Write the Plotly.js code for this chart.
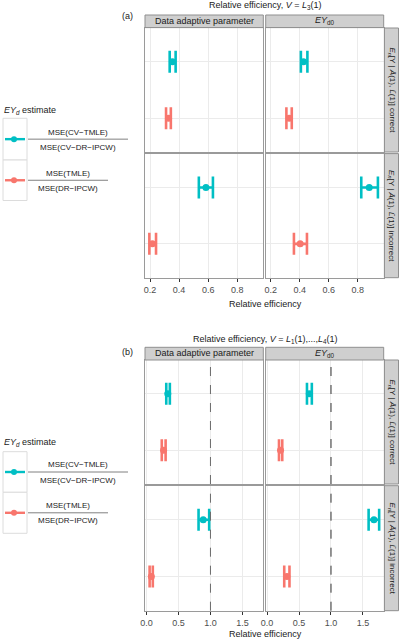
<!DOCTYPE html>
<html>
<head>
<meta charset="utf-8">
<script src="https://cdn.plot.ly/plotly-3.0.1.min.js"></script>
<style>
  html, body { margin: 0; padding: 0; background: #ffffff; }
  #chart { width: 400px; height: 643px; }
</style>
</head>
<body>
<div id="chart"></div>
<script>
// ---------------- DATA ----------------
const parameters = ["Data adaptive parameter", "<i>EY</i><sub>d0</sub>"];
const outcomeModels = ["correct", "incorrect"];
const estimatorKeys = ["CV-TMLE", "TMLE"];
const estimatorNumerators = ["MSE(CV−TMLE)", "MSE(TMLE)"];
const estimatorDenominators = ["MSE(CV−DR−IPCW)", "MSE(DR−IPCW)"];
const figureTitles = [
  "Relative efficiency, <i>V</i> = <i>L</i><sub>3</sub>(1)",
  "Relative efficiency, <i>V</i> = <i>L</i><sub>1</sub>(1),...,<i>L</i><sub>4</sub>(1)"
];
const figureTags = ["(a)", "(b)"];
const xTickValsA = [0.2, 0.4, 0.6, 0.8];
const xTickValsB = [0.0, 0.5, 1.0, 1.5];
const referenceLineB = 1.0;

// panel order: [DAP correct, EYd0 correct, DAP incorrect, EYd0 incorrect]
// (a) V = L3(1)
const a_cvtmle    = [0.354, 0.426, 0.585, 0.880];
const a_cvtmle_lo = [0.335, 0.408, 0.536, 0.825];
const a_cvtmle_hi = [0.376, 0.453, 0.633, 0.940];
const a_tmle      = [0.327, 0.327, 0.216, 0.403];
const a_tmle_lo   = [0.310, 0.308, 0.195, 0.360];
const a_tmle_hi   = [0.343, 0.345, 0.241, 0.450];
// (b) V = L1(1),...,L4(1)
const b_cvtmle    = [0.334, 0.660, 0.887, 1.672];
const b_cvtmle_lo = [0.310, 0.624, 0.814, 1.589];
const b_cvtmle_hi = [0.366, 0.700, 0.980, 1.754];
const b_tmle      = [0.268, 0.210, 0.077, 0.310];
const b_tmle_lo   = [0.240, 0.186, 0.050, 0.268];
const b_tmle_hi   = [0.300, 0.237, 0.100, 0.350];

// ---------------- STYLE / LAYOUT ----------------
const W = 400, H = 643;
const FONT = '"Liberation Sans", Arial, Helvetica, sans-serif';
const COLORS = ["#00BFC4", "#F8766D"];
const px = v => v / W;
const py = v => 1 - v / H;

const colX = [[145, 263.3], [265.7, 383.7]];
const figs = [
  { rows: [[28, 152], [153.6, 277.7]], strip: [15, 27.6], title: 5.5, tag: 15.7,
    xtitle: 304, range: [0.165, 0.98], ticks: xTickValsA, fmt: '.1f',
    legTitle: 110, legBox: [118.3, 160, 200.5],
    series: [[a_cvtmle, a_cvtmle_lo, a_cvtmle_hi], [a_tmle, a_tmle_lo, a_tmle_hi]], ref: null },
  { rows: [[360, 484], [485.7, 610.7]], strip: [347.3, 360], title: 339.3, tag: 352.3,
    xtitle: 634, range: [-0.022, 1.825], ticks: xTickValsB, fmt: '.1f',
    legTitle: 442.5, legBox: [451.7, 492.3, 533.3],
    series: [[b_cvtmle, b_cvtmle_lo, b_cvtmle_hi], [b_tmle, b_tmle_lo, b_tmle_hi]], ref: referenceLineB }
];

const traces = [];
const layout = {
  width: W, height: H,
  margin: { l: 0, r: 0, t: 0, b: 0 },
  paper_bgcolor: '#ffffff', plot_bgcolor: '#ffffff',
  showlegend: false,
  font: { family: FONT, size: 9, color: '#1a1a1a' },
  shapes: [], annotations: []
};

let ax = 0;
figs.forEach((f, fi) => {
  f.rows.forEach((row, ri) => {
    colX.forEach((col, ci) => {
      ax += 1;
      const xn = 'xaxis' + (ax === 1 ? '' : ax);
      const yn = 'yaxis' + (ax === 1 ? '' : ax);
      const xr = 'x' + (ax === 1 ? '' : ax);
      const yr = 'y' + (ax === 1 ? '' : ax);
      const pi = ri * 2 + ci;
      layout[xn] = {
        domain: [px(col[0]), px(col[1])], anchor: yr,
        range: f.range, tickvals: f.ticks, tickformat: f.fmt,
        showticklabels: ri === 1, ticks: ri === 1 ? 'outside' : '',
        ticklen: 3, tickcolor: '#333333', tickwidth: 1,
        tickfont: { family: FONT, size: 9, color: '#4d4d4d' },
        showgrid: true, gridcolor: '#ebebeb', gridwidth: 1,
        zeroline: false, showline: true, mirror: true, linecolor: '#9a9a9a', linewidth: 1,
        fixedrange: true
      };
      layout[yn] = {
        domain: [py(row[1]), py(row[0])], anchor: xr,
        type: 'category', categoryorder: 'array', categoryarray: estimatorKeys,
        range: [1.6, -0.6], showticklabels: false, ticks: '',
        showgrid: true, gridcolor: '#ebebeb', gridwidth: 1,
        zeroline: false, showline: true, mirror: true, linecolor: '#9a9a9a', linewidth: 1,
        fixedrange: true
      };
      if (f.ref !== null) {
        layout.shapes.push({
          type: 'line', xref: xr, yref: yr + ' domain',
          x0: f.ref, x1: f.ref, y0: 0, y1: 1,
          line: { color: ci === 0 ? '#6a6a6a' : '#333333', width: 1, dash: 'dash' }
        });
      }
      f.series.forEach((s, si) => {
        const v = s[0][pi], lo = s[1][pi], hi = s[2][pi];
        traces.push({
          type: 'scatter', mode: 'markers', xaxis: xr, yaxis: yr,
          x: [v], y: [estimatorKeys[si]],
          marker: { color: COLORS[si], size: 7 },
          error_x: { type: 'data', symmetric: false, array: [hi - v], arrayminus: [v - lo],
                     color: COLORS[si], thickness: 2.6, width: 11 },
          hoverinfo: 'x'
        });
      });
      // top strips
      if (ri === 0) {
        layout.shapes.push({ type: 'rect', xref: 'paper', yref: 'paper',
          x0: px(col[0]), x1: px(col[1]), y0: py(f.strip[1]), y1: py(f.strip[0]),
          fillcolor: '#cfcfcf', line: { color: '#8f8f8f', width: 1 } });
        layout.annotations.push({ xref: 'paper', yref: 'paper', x: px((col[0] + col[1]) / 2),
          y: py((f.strip[0] + f.strip[1]) / 2 - 0.3), text: parameters[ci], showarrow: false,
          xanchor: 'center', yanchor: 'middle', font: { family: FONT, size: 9, color: '#1a1a1a' } });
      }
    });
    // right strips
    layout.shapes.push({ type: 'rect', xref: 'paper', yref: 'paper',
      x0: px(384.4), x1: px(398.5), y0: py(row[1]), y1: py(row[0]),
      fillcolor: '#cfcfcf', line: { color: '#8f8f8f', width: 1 } });
    layout.annotations.push({ xref: 'paper', yref: 'paper', x: px(391.6),
      y: py((row[0] + row[1]) / 2), textangle: 90,
      text: '<i>E<sub>n</sub></i>[Y | <i>Ā</i>(1), <i>L̄</i>(1)] ' + outcomeModels[ri],
      showarrow: false, xanchor: 'center', yanchor: 'middle',
      font: { family: FONT, size: 8, color: '#1a1a1a' } });
  });
  // titles
  layout.annotations.push({ xref: 'paper', yref: 'paper', x: px(265), y: py(f.title),
    text: figureTitles[fi], showarrow: false, xanchor: 'center', yanchor: 'middle',
    font: { family: FONT, size: 9, color: '#1a1a1a' } });
  layout.annotations.push({ xref: 'paper', yref: 'paper', x: px(127), y: py(f.tag),
    text: figureTags[fi], showarrow: false, xanchor: 'center', yanchor: 'middle',
    font: { family: FONT, size: 9, color: '#1a1a1a' } });
  layout.annotations.push({ xref: 'paper', yref: 'paper', x: px(265), y: py(f.xtitle),
    text: 'Relative efficiency', showarrow: false, xanchor: 'center', yanchor: 'middle',
    font: { family: FONT, size: 9, color: '#1a1a1a' } });
  // legend
  layout.annotations.push({ xref: 'paper', yref: 'paper', x: px(2), y: py(f.legTitle),
    text: '<i>EY<sub>d</sub></i> estimate', showarrow: false, xanchor: 'left', yanchor: 'middle',
    font: { family: FONT, size: 9, color: '#1a1a1a' } });
  const lineEnds = [128, 108];
  const textCenters = [78, 68];
  for (let k = 0; k < 2; k++) {
    const top = f.legBox[k], bot = f.legBox[k + 1];
    const mid = (top + bot) / 2;
    layout.shapes.push({ type: 'rect', xref: 'paper', yref: 'paper',
      x0: px(3), x1: px(27), y0: py(bot), y1: py(top),
      fillcolor: '#ffffff', line: { color: '#dcdcdc', width: 1 } });
    layout.shapes.push({ type: 'line', xref: 'paper', yref: 'paper',
      x0: px(5), x1: px(25), y0: py(mid), y1: py(mid),
      line: { color: COLORS[k], width: 2.4 } });
    layout.shapes.push({ type: 'circle', xref: 'paper', yref: 'paper',
      x0: px(11), x1: px(17), y0: py(mid + 3), y1: py(mid - 3),
      fillcolor: COLORS[k], line: { color: COLORS[k], width: 0 } });
    layout.shapes.push({ type: 'line', xref: 'paper', yref: 'paper',
      x0: px(28), x1: px(lineEnds[k]), y0: py(mid), y1: py(mid),
      line: { color: '#808080', width: 1 } });
    layout.annotations.push({ xref: 'paper', yref: 'paper', x: px(textCenters[k]), y: py(mid - 7),
      text: estimatorNumerators[k], showarrow: false, xanchor: 'center', yanchor: 'middle',
      font: { family: FONT, size: 8, color: '#1a1a1a' } });
    layout.annotations.push({ xref: 'paper', yref: 'paper', x: px(textCenters[k]), y: py(mid + 8),
      text: estimatorDenominators[k], showarrow: false, xanchor: 'center', yanchor: 'middle',
      font: { family: FONT, size: 8, color: '#1a1a1a' } });
  }
});

Plotly.newPlot('chart', traces, layout, { staticPlot: true, displayModeBar: false });
</script>
</body>
</html>
